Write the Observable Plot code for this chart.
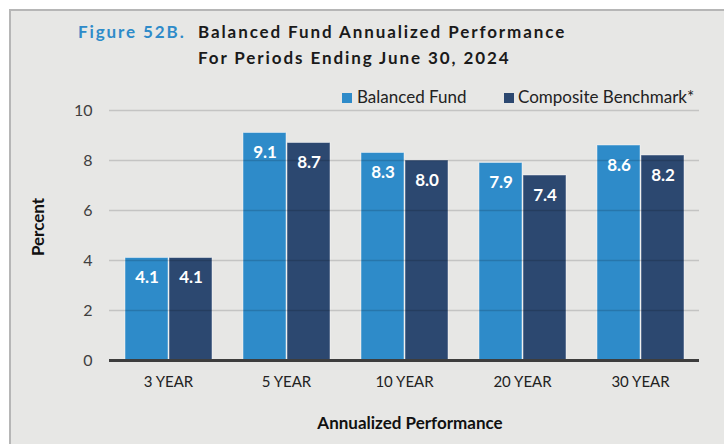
<!DOCTYPE html>
<html><head><meta charset="utf-8">
<script src="https://cdn.jsdelivr.net/npm/d3@7"></script>
<script src="https://cdn.jsdelivr.net/npm/@observablehq/plot@0.6"></script>
<style>
body{margin:0;background:#fff;}
#wrap{position:relative;width:724px;height:444px;overflow:hidden;font-family:Lato,"Noto Sans",sans-serif;}
#bg{position:absolute;left:9px;top:9px;right:0;bottom:0;background:#e7e7e5;border-left:2px solid #b6b6b6;border-top:2px solid #b6b6b6;}
#chart{position:absolute;left:0;top:0;}
.t{position:absolute;white-space:nowrap;line-height:1;}
.title{font-weight:bold;font-size:17px;letter-spacing:1.9px;color:#1a1a1a;}
.fig{color:#2e8bc9;}
.leg{font-size:17px;color:#222;}
.sw{position:absolute;width:10px;height:10px;}
.axt{font-weight:bold;font-size:17px;color:#111;}
</style>
</head><body>
<div id="wrap">
  <div id="bg"></div>
  <div id="chart"></div>
  <div class="t title fig" id="figLabel" style="left:78px;top:23px;"></div>
  <div class="t title" id="title1" style="left:198px;top:23px;"></div>
  <div class="t title" id="title2" style="left:198px;top:49px;"></div>
  <div class="sw" id="sw0" style="left:342px;top:93px;"></div>
  <div class="t leg" id="leg0" style="left:357px;top:88px;"></div>
  <div class="sw" id="sw1" style="left:504px;top:93px;"></div>
  <div class="t leg" id="leg1" style="left:518px;top:88px;"></div>
  <div class="t axt" id="ylab" style="left:37px;top:227px;transform:translate(-50%,-50%) rotate(-90deg);"></div>
  <div class="t axt" id="xlab" style="left:410px;top:414px;transform:translateX(-50%);"></div>
</div>
<script>
const figureLabel = "Figure 52B.";
const titleLine1 = "Balanced Fund Annualized Performance";
const titleLine2 = "For Periods Ending June 30, 2024";
const periods = ["3 YEAR", "5 YEAR", "10 YEAR", "20 YEAR", "30 YEAR"];
const seriesNames = ["Balanced Fund", "Composite Benchmark*"];
const fundValues = [4.1, 9.1, 8.3, 7.9, 8.6];
const benchValues = [4.1, 8.7, 8.0, 7.4, 8.2];
const seriesColors = ["#2e8bc9", "#2c4870"];
const yTicks = [0, 2, 4, 6, 8, 10];
const yTitle = "Percent";
const xTitle = "Annualized Performance";

const data = [];
periods.forEach((p, i) => {
  data.push({period: p, series: seriesNames[0], value: fundValues[i]});
  data.push({period: p, series: seriesNames[1], value: benchValues[i]});
});

document.getElementById("figLabel").textContent = figureLabel;
document.getElementById("title1").textContent = titleLine1;
document.getElementById("title2").textContent = titleLine2;
document.getElementById("leg0").textContent = seriesNames[0];
document.getElementById("leg1").textContent = seriesNames[1];
document.getElementById("sw0").style.background = seriesColors[0];
document.getElementById("sw1").style.background = seriesColors[1];
document.getElementById("ylab").textContent = yTitle;
document.getElementById("xlab").textContent = xTitle;

const chart = Plot.plot({
  width: 724,
  height: 444,
  marginLeft: 107,
  marginRight: 23,
  marginTop: 110,
  marginBottom: 84,
  style: {background: "transparent", fontFamily: "Lato, 'Noto Sans', sans-serif", overflow: "visible"},
  fx: {domain: periods, padding: 0, label: null},
  x: {domain: seriesNames, paddingInner: 0.033, paddingOuter: 0.336, axis: null},
  y: {domain: [0, 10], label: null},
  color: {domain: seriesNames, range: seriesColors},
  marks: [
    Plot.barY(data, {fx: "period", x: "series", y: "value", fill: "series",
      stroke: "#ffffff", strokeOpacity: 0.45, strokeWidth: 1}),
    Plot.ruleY(yTicks.filter(d => d > 0), {stroke: "#000", strokeOpacity: 0.15, strokeWidth: 1.5}),
    Plot.ruleY([0], {stroke: "#3d3d3d", strokeWidth: 3}),
    Plot.text(data, {fx: "period", x: "series", y: "value", text: d => d.value.toFixed(1),
      dy: 20, fill: "#fff", fontWeight: "bold", fontSize: 17}),
    Plot.axisY({ticks: yTicks, tickSize: 0, tickPadding: 17, fontSize: 16, fill: "#404040", label: null}),
    Plot.axisFx({anchor: "bottom", tickSize: 0, tickPadding: 16, fontSize: 15, fill: "#222", label: null})
  ]
});
document.getElementById("chart").appendChild(chart);
</script>
</body></html>
